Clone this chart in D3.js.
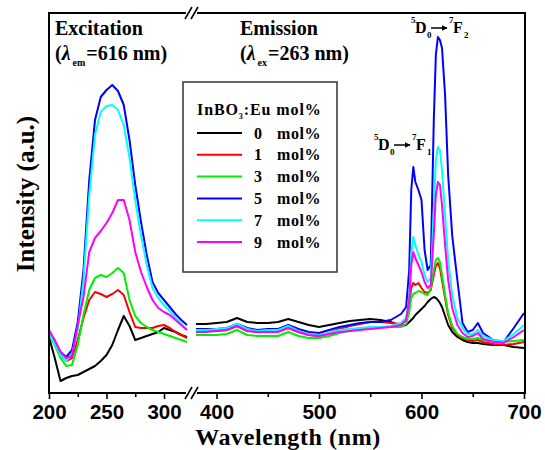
<!DOCTYPE html>
<html>
<head>
<meta charset="utf-8">
<script src="https://cdn.jsdelivr.net/npm/d3@7"></script>
<style>
  body { margin: 0; background: #fff; }
  svg { display: block; }
</style>
</head>
<body>
<svg id="chart" width="545" height="450"></svg>
<script>
// Wavelength grids (nm)
const excitationWavelengths = [200, 205, 210, 215, 220, 225, 230, 235, 240, 245, 250, 255, 260, 265, 270, 275, 280, 285, 290, 295, 300, 305, 310, 315, 320];
const emissionWavelengths = [380, 390, 400, 410, 420, 430, 440, 450, 460, 470, 480, 490, 500, 510, 520, 530, 540, 550, 560, 570, 580, 585, 588, 590, 592, 594, 597, 600, 603, 606, 609, 612, 614, 616, 618, 620, 623, 626, 630, 635, 640, 645, 650, 655, 660, 670, 680, 690, 700];

// Eu concentration of each sample (mol%)
const concentrations = ["0", "1", "3", "5", "7", "9"];

// Excitation spectra (λem = 616 nm), intensity in a.u.
const excitation0 = [56, 35, 12, 15, 17, 18, 21, 24, 27, 32, 38, 48, 63, 77, 67, 53, 55, 57, 59, 61, 65, 63, 61, 58, 56];
const excitation1 = [58, 50, 38, 32, 35, 53, 75, 93, 101, 99, 96, 99, 103, 98, 81, 66, 65, 65, 65, 67, 68, 65, 61, 58, 55];
const excitation3 = [58, 48, 35, 27, 28, 48, 78, 103, 115, 118, 116, 120, 125, 120, 93, 77, 70, 66, 63, 61, 59, 57, 55, 53, 51];
const excitation5 = [61, 51, 41, 36, 43, 71, 123, 213, 273, 296, 303, 308, 302, 288, 253, 208, 171, 138, 111, 100, 93, 86, 79, 73, 68];
const excitation7 = [60, 49, 38, 32, 39, 63, 113, 198, 258, 281, 287, 288, 283, 268, 235, 193, 158, 128, 105, 95, 88, 82, 75, 69, 63];
const excitation9 = [63, 53, 41, 35, 37, 68, 96, 141, 155, 162, 170, 180, 193, 193, 173, 141, 121, 106, 93, 85, 81, 78, 73, 68, 63];

// Emission spectra (λex = 263 nm), intensity in a.u.
const emission0 = [69, 69, 70, 71, 75, 71, 70, 70, 71, 74, 71, 68, 66, 68, 70, 72, 73, 74, 73, 71, 67, 68, 71, 73, 75, 78, 81, 84, 87, 91, 94, 96, 95, 93, 90, 86, 77, 68, 61, 56, 53, 51, 50, 50, 49, 48, 48, 46, 45];
const emission1 = [62, 62, 62, 63, 67, 62, 61, 61, 62, 65, 61, 58, 57, 60, 64, 67, 69, 71, 71, 70, 69, 73, 88, 105, 110, 108, 110, 105, 101, 100, 103, 118, 127, 130, 125, 113, 95, 78, 65, 58, 55, 53, 52, 53, 51, 49, 48, 49, 51];
const emission3 = [58, 58, 58, 59, 63, 58, 57, 57, 57, 61, 57, 55, 55, 57, 60, 62, 64, 66, 66, 66, 66, 69, 81, 95, 99, 100, 102, 101, 99, 98, 105, 123, 133, 135, 131, 118, 98, 80, 67, 59, 56, 54, 54, 55, 53, 52, 51, 52, 53];
const emission5 = [64, 64, 64, 65, 69, 65, 63, 64, 64, 68, 64, 61, 60, 63, 66, 68, 70, 71, 71, 73, 79, 86, 123, 203, 226, 211, 203, 193, 143, 123, 128, 273, 338, 356, 353, 345, 298, 218, 157, 113, 70, 61, 63, 70, 60, 53, 51, 65, 80];
const emission7 = [63, 63, 64, 65, 69, 64, 62, 63, 63, 67, 62, 59, 58, 60, 63, 64, 65, 66, 66, 67, 70, 75, 93, 138, 156, 148, 138, 131, 118, 111, 115, 183, 233, 246, 243, 223, 178, 133, 98, 75, 65, 59, 59, 63, 57, 53, 52, 59, 68];
const emission9 = [61, 61, 62, 63, 67, 62, 61, 61, 61, 65, 61, 58, 57, 59, 61, 62, 63, 64, 65, 66, 68, 73, 93, 128, 141, 135, 128, 121, 111, 105, 108, 158, 198, 211, 208, 188, 148, 113, 85, 68, 60, 56, 57, 60, 54, 51, 50, 56, 63];

// Axis tick values (nm)
const excitationTicks = [200, 250, 300];
const excitationMinorTicks = [225, 275];
const emissionTicks = [400, 500, 600, 700];
const emissionMinorTicks = [450, 550, 650];

const excitationSeries = [excitation0, excitation1, excitation3, excitation5, excitation7, excitation9];
const emissionSeries = [emission0, emission1, emission3, emission5, emission7, emission9];
const lineColors = ["#000000", "#ff0000", "#00ee00", "#0000ff", "#00ffff", "#ff00ff"];

const svg = d3.select("#chart");
const serif = "'Liberation Serif', 'Times New Roman', serif";
const sans = "'Liberation Sans', Arial, sans-serif";

const frameLeft = 49, frameRight = 525, frameTop = 13, frameBottom = 393;
const breakL = 186, breakR = 197;

const xExc = d3.scaleLinear().domain([200, 320]).range([frameLeft, 187]);
const xEm = d3.scaleLinear().domain([380, 700]).range([196, 524]);
const y = d3.scaleLinear().domain([0, 380]).range([frameBottom, frameTop]);

// Spectra
const plot = svg.append("g");
function drawSpectra(wavelengths, seriesList, xs) {
  seriesList.forEach((vals, i) => {
    const pts = wavelengths.map((w, j) => [w, vals[j]]);
    plot.append("path")
      .datum(pts)
      .attr("fill", "none")
      .attr("stroke", lineColors[i])
      .attr("stroke-width", 2)
      .attr("stroke-linejoin", "round")
      .attr("d", d3.line().x(d => xs(d[0])).y(d => y(d[1])));
  });
}
drawSpectra(excitationWavelengths, excitationSeries, xExc);
drawSpectra(emissionWavelengths, emissionSeries, xEm);

// Frame with axis break
const frame = svg.append("g").attr("stroke", "#000").attr("stroke-width", 2).attr("fill", "none");
frame.append("line").attr("x1", frameLeft).attr("x2", frameLeft).attr("y1", frameTop - 1).attr("y2", frameBottom + 1);
frame.append("line").attr("x1", frameRight).attr("x2", frameRight).attr("y1", frameTop - 1).attr("y2", frameBottom + 1);
[frameTop, frameBottom].forEach(yy => {
  frame.append("line").attr("x1", frameLeft).attr("x2", breakL).attr("y1", yy).attr("y2", yy);
  frame.append("line").attr("x1", breakR).attr("x2", frameRight).attr("y1", yy).attr("y2", yy);
  [185, 191].forEach(bx => {
    frame.append("line")
      .attr("x1", bx).attr("y1", yy + 6)
      .attr("x2", bx + 7).attr("y2", yy - 6)
      .attr("stroke-width", 1.6);
  });
});

// X axes (two segments)
function drawAxis(scale, major, minor) {
  const gMajor = svg.append("g").attr("transform", `translate(0,${frameBottom})`)
    .call(d3.axisBottom(scale).tickValues(major).tickSize(6).tickSizeOuter(0).tickPadding(5).tickFormat(d3.format("d")));
  gMajor.select(".domain").remove();
  gMajor.selectAll(".tick line").attr("stroke", "#000").attr("stroke-width", 1.6);
  gMajor.selectAll(".tick text")
    .attr("font-family", sans).attr("font-size", 20.5).attr("font-weight", "bold").attr("fill", "#000");
  const gMinor = svg.append("g").attr("transform", `translate(0,${frameBottom})`)
    .call(d3.axisBottom(scale).tickValues(minor).tickSize(4).tickSizeOuter(0).tickFormat(""));
  gMinor.select(".domain").remove();
  gMinor.selectAll(".tick line").attr("stroke", "#000").attr("stroke-width", 1.6);
}
drawAxis(xExc, excitationTicks, excitationMinorTicks);
drawAxis(xEm, emissionTicks, emissionMinorTicks);

// Axis titles
svg.append("text")
  .attr("x", 288).attr("y", 444.5)
  .attr("text-anchor", "middle")
  .attr("font-family", serif).attr("font-size", 24).attr("font-weight", "bold")
  .attr("letter-spacing", 0.6)
  .text("Wavelength (nm)");
svg.append("text")
  .attr("transform", "translate(34,194) rotate(-90)")
  .attr("text-anchor", "middle")
  .attr("font-family", serif).attr("font-size", 25).attr("font-weight", "bold")
  .text("Intensity (a.u.)");

// Panel captions
function caption(x, title, sub, value) {
  svg.append("text")
    .attr("x", x).attr("y", 35)
    .attr("font-family", serif).attr("font-size", 20).attr("font-weight", "bold")
    .text(title);
  const t = svg.append("text")
    .attr("x", x).attr("y", 60)
    .attr("font-family", serif).attr("font-size", 20).attr("font-weight", "bold");
  t.append("tspan").text("(");
  t.append("tspan").attr("font-style", "italic").text("λ");
  t.append("tspan").attr("font-size", 10).attr("dx", 2).attr("dy", 6).text(sub);
  t.append("tspan").attr("dx", 1).attr("dy", -6).text("=" + value + " nm)");
}
caption(55, "Excitation", "em", "616");
caption(240, "Emission", "ex", "263");

// Transition labels
svg.append("defs").append("marker")
  .attr("id", "arrowhead")
  .attr("viewBox", "0 0 10 10")
  .attr("refX", 9).attr("refY", 5)
  .attr("markerWidth", 4).attr("markerHeight", 4)
  .attr("orient", "auto")
  .append("path").attr("d", "M0,0 L10,5 L0,10 z").attr("fill", "#000");

function transition(x, yb, lower) {
  const g = svg.append("g").attr("font-family", serif).attr("font-weight", "bold").attr("fill", "#000");
  g.append("text").attr("x", x).attr("y", yb - 10).attr("font-size", 9).text("5");
  g.append("text").attr("x", x + 4).attr("y", yb).attr("font-size", 16).text("D");
  g.append("text").attr("x", x + 16).attr("y", yb + 5).attr("font-size", 9).text("0");
  g.append("line")
    .attr("x1", x + 20).attr("x2", x + 36)
    .attr("y1", yb - 5).attr("y2", yb - 5)
    .attr("stroke", "#000").attr("stroke-width", 1.5)
    .attr("marker-end", "url(#arrowhead)");
  g.append("text").attr("x", x + 38).attr("y", yb - 10).attr("font-size", 9).text("7");
  g.append("text").attr("x", x + 42).attr("y", yb).attr("font-size", 16).text("F");
  g.append("text").attr("x", x + 53).attr("y", yb + 5).attr("font-size", 9).text(lower);
}
transition(411, 33, "2");
transition(374, 150, "1");

// Legend
const legend = svg.append("g");
legend.append("rect")
  .attr("x", 183).attr("y", 82).attr("width", 154).attr("height", 190)
  .attr("fill", "#fff").attr("stroke", "#333").attr("stroke-width", 1.5);
const lt = legend.append("text")
  .attr("x", 197).attr("y", 115)
  .attr("font-family", serif).attr("font-size", 16).attr("font-weight", "bold")
  .attr("letter-spacing", 0.9);
lt.append("tspan").text("InBO");
lt.append("tspan").attr("font-size", 8).attr("dy", 4).text("3");
lt.append("tspan").attr("dy", -4).text(":Eu  mol%");

concentrations.forEach((c, i) => {
  const ly = 133 + i * 21.8;
  legend.append("line")
    .attr("x1", 197).attr("x2", 242).attr("y1", ly).attr("y2", ly)
    .attr("stroke", lineColors[i]).attr("stroke-width", 2);
  legend.append("text")
    .attr("x", 258).attr("y", ly + 5.5).attr("text-anchor", "middle")
    .attr("font-family", serif).attr("font-size", 16).attr("font-weight", "bold")
    .text(c);
  legend.append("text")
    .attr("x", 277).attr("y", ly + 5.5)
    .attr("font-family", serif).attr("font-size", 16).attr("font-weight", "bold")
    .attr("letter-spacing", 0.6)
    .text("mol%");
});
</script>
</body>
</html>
